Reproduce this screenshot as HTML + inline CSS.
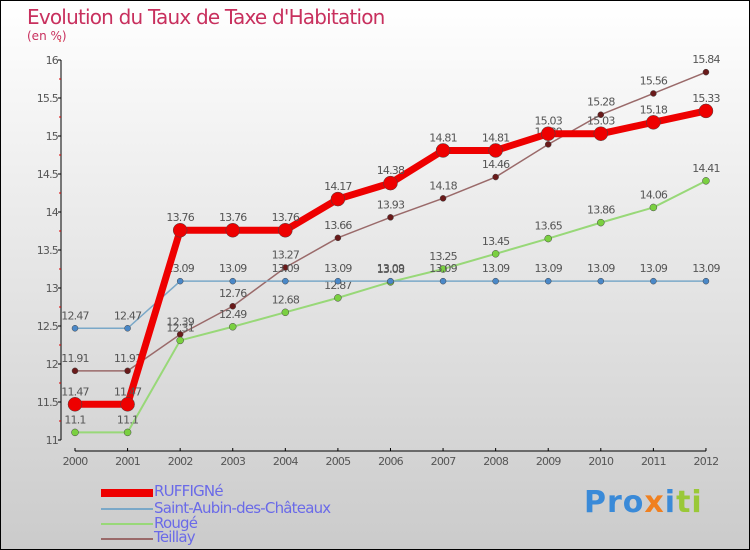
<!DOCTYPE html>
<html><head><meta charset="utf-8"><style>
html,body{margin:0;padding:0}
body{width:750px;height:550px;overflow:hidden;font-family:"DejaVu Sans","Liberation Sans",sans-serif}
#wrap{position:relative;width:748px;height:548px;border:1px solid #000;background:linear-gradient(#ffffff,#cbcbcb)}
.t{position:absolute;color:#c8305e}
.leg{position:absolute;left:153px;font-size:15px;color:#6a6ae8;letter-spacing:-0.8px}
.sw{position:absolute;left:100px;width:52px}
</style></head><body>
<div id="wrap">
<div class="t" style="left:26px;top:4px;font-size:20px;letter-spacing:-0.8px">Evolution du Taux de Taxe d'Habitation</div>
<div class="t" style="left:26px;top:28px;font-size:12px">(en %)</div>
<svg id="svg" width="750" height="550" style="position:absolute;left:-1px;top:-1px"></svg>
<div class="sw" style="top:488px;height:8px;background:#e00"></div>
<div class="leg" style="top:481px">RUFFIGNé</div>
<div class="sw" style="top:507px;height:2px;background:#7aa8c8"></div>
<div class="leg" style="top:498px">Saint-Aubin-des-Châteaux</div>
<div class="sw" style="top:522px;height:2px;background:#98d878"></div>
<div class="leg" style="top:513px">Rougé</div>
<div class="sw" style="top:537px;height:2px;background:#9a6a6a"></div>
<div class="leg" style="top:527px">Teillay</div>
<div style="position:absolute;left:583px;top:484px;font-size:30px;font-weight:bold;letter-spacing:1px"><span style="color:#3a8ad8">Pro</span><span style="color:#f08020">x</span><span style="color:#3a8ad8">i</span><span style="color:#9ac838">ti</span></div>
</div>
<script>
const years=[2000,2001,2002,2003,2004,2005,2006,2007,2008,2009,2010,2011,2012];
const yTicks=[11,11.5,12,12.5,13,13.5,14,14.5,15,15.5,16];
const ruffigne=[11.47,11.47,13.76,13.76,13.76,14.17,14.38,14.81,14.81,15.03,15.03,15.18,15.33];
const saintAubin=[12.47,12.47,13.09,13.09,13.09,13.09,13.09,13.09,13.09,13.09,13.09,13.09,13.09];
const rouge=[11.1,11.1,12.31,12.49,12.68,12.87,13.08,13.25,13.45,13.65,13.86,14.06,14.41];
const teillay=[11.91,11.91,12.39,12.76,13.27,13.66,13.93,14.18,14.46,14.89,15.28,15.56,15.84];
const X0=75,XS=52.58,Y0=440,YS=76;
const x=i=>X0+i*XS, y=v=>Y0-(v-11)*YS;
const svg=document.getElementById('svg'),NS='http://www.w3.org/2000/svg';
function mk(t,a){const e=document.createElementNS(NS,t);for(const k in a)e.setAttribute(k,a[k]);svg.appendChild(e);return e;}
let e;
e=mk('line',{x1:61,y1:60,x2:61,y2:440,stroke:'#000'});


e=mk('line',{x1:75,y1:451,x2:706,y2:451,stroke:'#000'});


yTicks.forEach(v=>{
 mk('line',{x1:58,x2:61,y1:y(v),y2:y(v),stroke:'#000'});
 mk('line',{x1:59,x2:61,y1:y(v+0.25),y2:y(v+0.25),stroke:'#d00'});
 e=mk('text',{x:58,y:y(v)+4,'text-anchor':'end','font-size':11,fill:'#555','letter-spacing':'-0.8'});
 e.textContent=String(v);
 
 
});
years.forEach((yr,i)=>{
 mk('line',{x1:x(i),x2:x(i),y1:448,y2:451,stroke:'#000'});
 e=mk('text',{x:x(i),y:465,'text-anchor':'middle','font-size':11,fill:'#555','letter-spacing':'-0.8'});
 e.textContent=String(yr);
 
 
});
function series(vals,color,w,r,dot,name){
 e=mk('polyline',{points:vals.map((v,i)=>x(i)+','+y(v)).join(' '),fill:'none',stroke:color,'stroke-width':w});
 
 
 vals.forEach((v,i)=>{
  e=mk('circle',{cx:x(i),cy:y(v),r:r,fill:dot,stroke:'#444','stroke-width':0.5});
  
  
  e=mk('text',{x:x(i),y:y(v)-9,'text-anchor':'middle','font-size':11,fill:'#555','letter-spacing':'-0.8'});
  e.textContent=String(v);
  
  
 });
}
series(teillay,'#9a6a6a',1.5,3,'#6a1a1a','teillay');
series(rouge,'#98d878',2,3.5,'#7ad040','rouge');
series(saintAubin,'#7aa8c8',1.5,3,'#4a88c8','saint-aubin');
series(ruffigne,'#e00',7,7,'#e00','ruffigne');
</script>
</body></html>
